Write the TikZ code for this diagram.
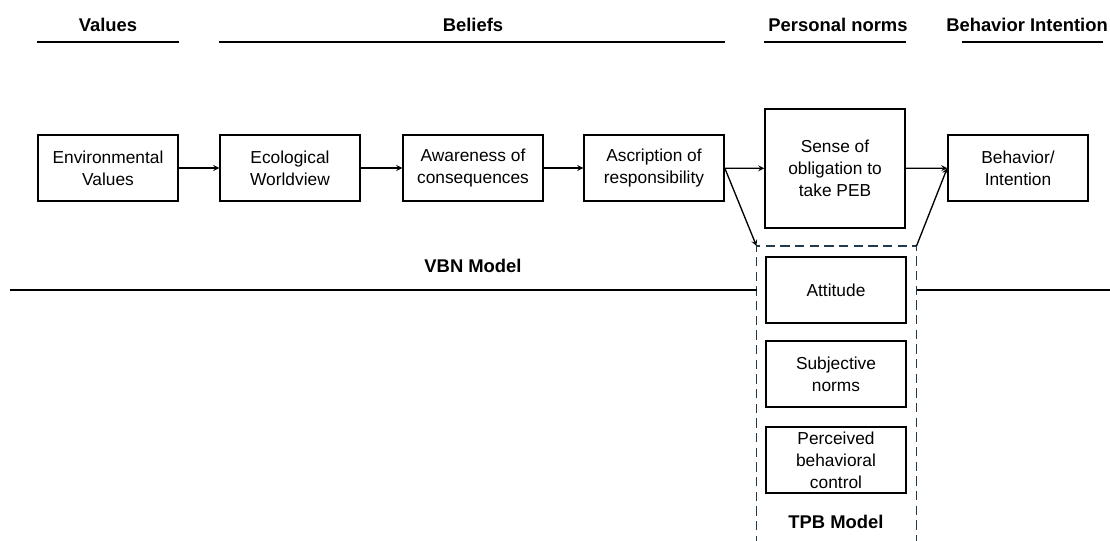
\documentclass[tikz,border=0pt]{standalone}
\usepackage{fontspec}
\setmainfont{Liberation Sans}
\definecolor{tpbblue}{HTML}{1F3B4D}
\begin{document}
\begin{tikzpicture}[x=0.75pt, y=-0.75pt,
    box/.style={draw, line width=1.1pt, minimum width=105pt,
                minimum height=49.5pt, align=center,
                font=\fontsize{13pt}{16.5pt}\selectfont},
    head/.style={font=\fontsize{13.8pt}{16pt}\selectfont\bfseries},
    hline/.style={line width=1.5pt},
    arr/.style={->, >=stealth, line width=1pt}
  ]
  \useasboundingbox (0,0) rectangle (1110,540);

  % VBN chain
  \node[box] (env) at (108,168) {Environmental\\Values};
  \node[box] (eco) at (290,168) {Ecological\\Worldview};
  \node[box] (aware) at (473,168) {Awareness of\\consequences};
  \node[box] (ascr) at (654,168) {Ascription of\\responsibility};
  \node[box, minimum height=89pt] (sense) at (835,168.5) {Sense of\\obligation to\\take PEB};
  \node[box] (behav) at (1018,168) {Behavior/\\Intention};

  % headers
  \node[head] (hval) at (108,25) {Values};
  \node[head] (hbel) at (473,25) {Beliefs};
  \node[head] (hnorm) at (838,25) {Personal norms};
  \node[head] (hint) at (1027,25) {Behavior Intention};
  \draw[hline] (env.west |- 0,42) -- (env.east |- 0,42);
  \draw[hline] (eco.west |- 0,42) -- (ascr.east |- 0,42);
  \draw[hline] (sense.west |- 0,42) -- (sense.east |- 0,42);
  \draw[hline] (962,42) -- (1103,42);

  % TPB block
  \coordinate (tpbnw) at (756.5,246);
  \coordinate (tpbne) at (916.5,246);
  \draw[tpbblue, line width=1.2pt, dash pattern=on 7pt off 4pt]
    (756.5,545) -- (tpbnw) -- (tpbne) -- (916.5,545);
  \node[box] (att) at (836,290) {Attitude};
  \node[box] (subj) at (836,374) {Subjective\\norms};
  \node[box] (perc) at (836,460) {Perceived\\behavioral\\control};
  \node[head] (tpb) at (836,522) {TPB Model};

  % model divider
  \node[head] (vbn) at (473,266) {VBN Model};
  \coordinate (divl) at (10,290);
  \coordinate (divr) at (1110,290);
  \draw[hline] (divl) -- (tpbnw |- divl);
  \draw[hline] (tpbne |- divl) -- (divr);

  \draw[arr] (env) -- (eco);
  \draw[arr] (eco) -- (aware);
  \draw[arr] (aware) -- (ascr);
  \draw[arr] (ascr) -- (sense);
  \draw[arr] (sense) -- (behav);
  \draw[arr] (ascr.east) -- (tpbnw);
  \draw[arr] (tpbne) -- (behav.west);
\end{tikzpicture}
\end{document}
